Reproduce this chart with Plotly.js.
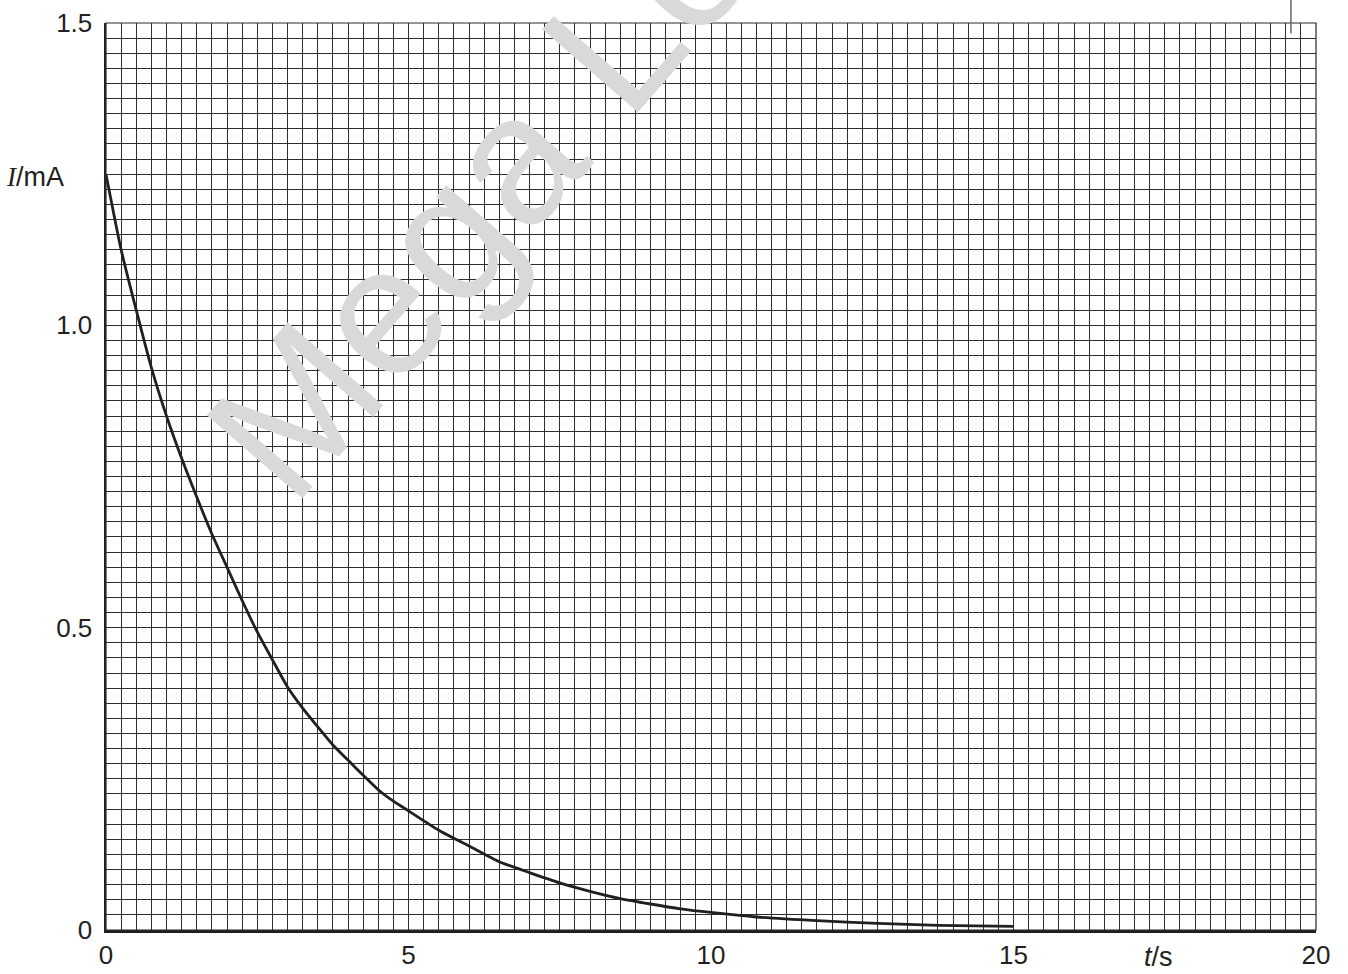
<!DOCTYPE html>
<html>
<head>
<meta charset="utf-8">
<script src="https://cdn.plot.ly/plotly-3.0.1.min.js"></script>
<style>
  html, body { margin: 0; padding: 0; background: #ffffff; }
  #chart { width: 1348px; height: 974px; }
</style>
</head>
<body>
<div id="chart"></div>
<script>
// Time t / s
const tValues = [0, 0.25, 0.5, 0.75, 1, 1.25, 1.5, 1.75, 2, 2.25, 2.5, 2.75, 3, 3.25, 3.5, 3.75, 4, 4.25, 4.5, 4.75, 5,
                 5.5, 6, 6.5, 7, 7.5, 8, 8.5, 9, 9.5, 10, 10.75, 11.75, 12.75, 13.75, 15];
// Current I / mA
const iValues = [1.25, 1.125, 1.025, 0.93, 0.85, 0.78, 0.716, 0.655, 0.60, 0.545, 0.493, 0.447, 0.402, 0.367, 0.336, 0.306, 0.281, 0.256, 0.232, 0.213, 0.197,
                 0.165, 0.139, 0.113, 0.095, 0.078, 0.064, 0.052, 0.043, 0.035, 0.029, 0.0215, 0.0154, 0.011, 0.0077, 0.006];

const xTickVals = [0, 5, 10, 15, 20];
const xTickText = ['0', '5', '10', '15', '20'];
const yTickVals = [0, 0.5, 1.0, 1.5];
const yTickText = ['0', '0.5', '1.0', '1.5'];

const ink = '#231f20';
const gridCol = '#2e2e2e';
const baseFont = { family: 'Liberation Sans, Arial, sans-serif', size: 26, color: ink };

const trace = {
  x: tValues,
  y: iValues,
  type: 'scatter',
  mode: 'lines',
  line: { color: ink, width: 2.8, shape: 'spline', smoothing: 0.6 },
  hoverinfo: 'skip',
  showlegend: false
};

const layout = {
  width: 1348,
  height: 974,
  margin: { l: 106, r: 32, t: 23, b: 44 },
  paper_bgcolor: '#ffffff',
  plot_bgcolor: '#ffffff',
  font: baseFont,
  showlegend: false,
  xaxis: {
    range: [0, 20],
    tickmode: 'array',
    tickvals: xTickVals,
    ticktext: xTickText,
    ticks: '',
    showgrid: true,
    gridcolor: gridCol,
    gridwidth: 1,
    minor: { tickmode: 'linear', tick0: 0, dtick: 0.25, showgrid: true, gridcolor: gridCol, gridwidth: 1, ticks: '' },
    showline: true,
    linecolor: ink,
    linewidth: 2.5,
    zeroline: false,
    tickfont: baseFont,
    ticklabelstandoff: 0,
    fixedrange: true
  },
  yaxis: {
    range: [0, 1.5],
    tickmode: 'array',
    tickvals: yTickVals,
    ticktext: yTickText,
    ticks: '',
    showgrid: true,
    gridcolor: gridCol,
    gridwidth: 1,
    minor: { tickmode: 'linear', tick0: 0, dtick: 0.025, showgrid: true, gridcolor: gridCol, gridwidth: 1, ticks: '' },
    showline: true,
    linecolor: ink,
    linewidth: 2.5,
    zeroline: false,
    tickfont: baseFont,
    ticklabelstandoff: 6,
    fixedrange: true
  },
  shapes: [
    { type: 'rect', xref: 'paper', yref: 'paper', x0: 0, x1: 1, y0: 0, y1: 1,
      line: { color: '#2a2a2a', width: 1.2 }, fillcolor: 'rgba(0,0,0,0)' },
    { type: 'line', xref: 'paper', yref: 'paper', x0: 0.9793, x1: 0.9793, y0: 0.9886, y1: 1.03,
      line: { color: '#666666', width: 1.5 } }
  ],
  annotations: [
    {
      text: 'Mega Lecture',
      xref: 'paper', yref: 'paper',
      x: 0.4196, y: 0.9775,
      xanchor: 'center', yanchor: 'middle',
      textangle: -49,
      showarrow: false,
      font: { family: 'Liberation Sans, Arial, sans-serif', size: 184, color: '#d9d9d9' }
    },
    {
      text: '<span style="font-family:Liberation Serif"><i>I</i></span>/mA',
      xref: 'paper', yref: 'paper',
      x: -0.084, y: 0.830,
      xanchor: 'left', yanchor: 'middle',
      showarrow: false,
      font: { family: 'Liberation Sans, Arial, sans-serif', size: 27, color: ink }
    },
    {
      text: '<i>t</i>/s',
      xref: 'paper', yref: 'paper',
      x: 0.870, y: -0.0298,
      xanchor: 'center', yanchor: 'middle',
      showarrow: false,
      font: { family: 'Liberation Sans, Arial, sans-serif', size: 27, color: ink }
    }
  ]
};

Plotly.newPlot('chart', [trace], layout, { displayModeBar: false, staticPlot: true });
</script>
</body>
</html>
